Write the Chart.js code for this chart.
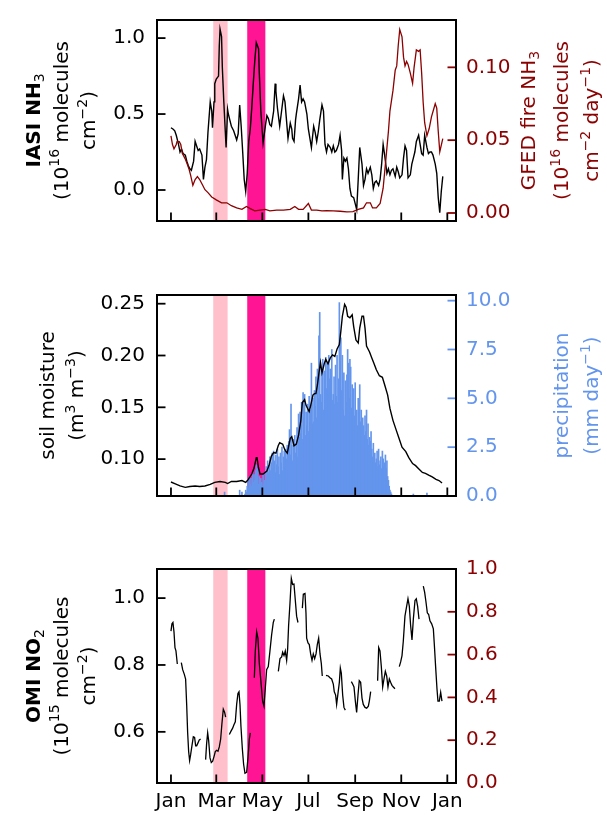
<!DOCTYPE html>
<html>
<head>
<meta charset="utf-8">
<script src="https://cdn.jsdelivr.net/npm/chart.js@4.4.0/dist/chart.umd.min.js"></script>
<title>NH3, soil moisture and NO2</title>
<style>
  body { margin: 0; background: #fff; }
  #wrap { position: relative; width: 607px; height: 815px; overflow: hidden; }
  canvas { position: absolute; left: 0; }
</style>
</head>
<body>
<div id="wrap">
<canvas id="c1" width="607" height="249" style="top:-4px"></canvas>
<canvas id="c2" width="607" height="249" style="top:271px"></canvas>
<canvas id="c3" width="607" height="270" style="top:545px"></canvas>
</div>

<script>
// x axis: day of year (leap year), ticks every two months
const monthTickDays = [0, 60, 121, 182, 244, 305, 366];
const monthTickLabels = ['Jan', 'Mar', 'May', 'Jul', 'Sep', 'Nov', 'Jan'];

// shaded periods (day of year)
const lightSpan = [56, 75];
const deepSpan = [101, 125];

// panel 1: IASI NH3 (left) and GFED fire NH3 (right)
const nh3Days = [0,3,5,7,10,12,14,16,19,21,23,25,27,30,32,34,36,38,41,43,45,47,49,52,54,55,57,58,60,63,64,65,67,68,70,72,73,75,76,78,80,83,85,87,89,91,93,95,97,99,101,103,105,107,109,111,113,116,117,119,121,122,125,127,129,131,133,136,138,139,141,143,144,147,149,151,153,155,158,160,161,163,165,166,169,171,173,175,177,180,182,184,186,189,191,193,195,197,200,202,204,206,208,211,213,215,217,219,222,224,226,227,229,231,233,235,237,239,242,244,246,248,250,253,255,257,259,261,264,266,268,270,272,275,277,279,281,283,286,288,290,292,294,297,299,301,303,306,308,310,312,314,317,319,321,323,325,328,330,332,334,336,339,341,343,345,347,350,352,354,356,358,360];
const nh3Vals = [0.41,0.40,0.39,0.36,0.30,0.25,0.27,0.24,0.23,0.19,0.16,0.14,0.13,0.19,0.32,0.29,0.26,0.27,0.23,0.07,0.15,0.20,0.38,0.58,0.52,0.41,0.58,0.70,0.73,0.75,0.95,1.06,1.01,0.81,0.58,0.38,0.28,0.53,0.50,0.46,0.42,0.39,0.36,0.33,0.37,0.56,0.42,0.25,0.07,-0.01,0.11,0.32,0.40,0.54,0.70,0.85,0.97,0.93,0.77,0.52,0.38,0.31,0.42,0.49,0.47,0.43,0.42,0.52,0.70,0.65,0.54,0.46,0.42,0.54,0.62,0.58,0.46,0.34,0.44,0.40,0.34,0.32,0.46,0.50,0.60,0.69,0.58,0.60,0.58,0.50,0.40,0.34,0.28,0.42,0.38,0.32,0.38,0.46,0.56,0.52,0.30,0.25,0.30,0.28,0.25,0.29,0.25,0.26,0.30,0.36,0.26,0.07,0.21,0.19,0.21,0.14,0.01,-0.04,-0.05,-0.09,-0.13,0.07,0.28,0.17,0.03,0.07,0.14,0.11,0.15,0.10,0.01,0.05,0.06,0.03,0.07,0.17,0.30,0.23,0.11,0.14,0.10,0.13,0.14,0.09,0.15,0.12,0.08,0.10,0.21,0.29,0.26,0.08,0.10,0.17,0.21,0.25,0.32,0.36,0.30,0.24,0.23,0.36,0.28,0.24,0.25,0.25,0.23,0.17,0.11,-0.05,-0.15,-0.01,0.09];
const nh3Ticks = [0, 0.5, 1.0];

const fireDays = [0,2,4,7,8,11,13,15,19,22,24,26,29,32,35,38,42,45,49,54,60,67,74,80,87,94,100,105,111,118,125,131,140,149,158,164,169,175,182,186,193,200,206,215,224,233,241,248,255,259,264,267,272,277,281,285,288,290,294,297,299,301,303,306,308,310,312,314,317,320,322,325,328,330,332,334,336,339,342,345,350,352,354,356,360];
const fireVals = [0.053,0.047,0.044,0.047,0.049,0.049,0.047,0.041,0.037,0.033,0.030,0.026,0.019,0.023,0.025,0.023,0.019,0.016,0.014,0.011,0.009,0.007,0.007,0.005,0.0035,0.0025,0.0045,0.003,0.0015,0.002,0.0025,0.0015,0.002,0.002,0.0025,0.0045,0.0025,0.0025,0.0065,0.002,0.002,0.0015,0.0016,0.0015,0.0012,0.0008,0.001,0.0025,0.0035,0.007,0.007,0.0035,0.0035,0.0065,0.017,0.039,0.056,0.070,0.084,0.098,0.101,0.115,0.126,0.121,0.107,0.101,0.104,0.102,0.096,0.089,0.100,0.112,0.111,0.112,0.096,0.076,0.062,0.053,0.058,0.066,0.075,0.072,0.056,0.042,0.051];
const fireTicks = [0, 0.05, 0.10];

// panel 2: soil moisture (left) and precipitation (right)
const smDays = [0,5,12,19,25,32,38,45,52,58,65,72,75,80,87,94,99,102,107,110,113,114,116,118,122,127,130,133,136,139,142,144,148,151,154,158,160,163,166,169,172,174,177,179,181,183,185,188,190,192,194,196,198,200,203,205,208,211,214,217,220,223,225,227,230,232,234,237,240,242,245,248,250,253,255,257,259,263,266,269,272,276,280,283,287,290,294,298,302,306,311,315,320,324,328,333,337,342,346,351,355,359];
const smVals = [0.0779,0.0764,0.0741,0.0727,0.0736,0.0741,0.0736,0.0741,0.0756,0.0776,0.0784,0.0776,0.0764,0.0784,0.0784,0.0793,0.0776,0.0799,0.0856,0.0914,0.1014,0.1014,0.0914,0.0856,0.0856,0.0885,0.0943,0.1029,0.1063,0.1057,0.1129,0.1158,0.1144,0.1086,0.1057,0.1201,0.1216,0.1129,0.1144,0.1230,0.1374,0.1546,0.1575,0.1517,0.1489,0.1460,0.1517,0.1618,0.1632,0.1632,0.1718,0.1833,0.1934,0.1833,0.1920,0.1963,0.1920,0.1977,0.2006,0.1991,0.2063,0.2106,0.2236,0.2379,0.2494,0.2466,0.2379,0.2365,0.2394,0.2279,0.2149,0.2121,0.2264,0.2379,0.2379,0.2264,0.2092,0.2034,0.1977,0.1920,0.1862,0.1805,0.1790,0.1718,0.1618,0.1489,0.1374,0.1287,0.1201,0.1115,0.1072,0.1014,0.0957,0.0937,0.0908,0.0871,0.0862,0.0842,0.0828,0.0805,0.0793,0.0770];
const smTicks = [0.10, 0.15, 0.20, 0.25];

// daily precipitation from day 98 to day 292, plus a few isolated showers
const precipFirstDay = 98;
const precipVals = [
  0.1,0.3,0.2,
  0.5,0.8,0.4,1.0,0.6, 0.9,0.5,1.2,0.7,1.1, 0.8,1.3,1.6,1.0,1.4, 0.6,1.0,0.4,0.9,0.7,
  0.5,1.1,0.6,0.8,1.2, 1.5,1.0,1.8,1.2,1.6, 2.0,1.3,1.7,2.2,1.4, 2.3,1.8,1.2,2.1,1.6,
  2.4,1.5,2.0,1.1,2.2, 1.7,2.5,1.3,2.0,2.3, 1.5,2.4,1.9,2.6,1.4, 2.8,3.4,2.1,4.7,2.6,
  1.8,2.9,1.6,3.1,2.2, 2.7,3.5,2.0,4.2,3.0, 4.3,3.2,4.8,2.9,5.3, 4.0,5.2,3.1,4.3,3.6,
  4.7,3.3,5.1,3.8,4.4, 6.8,3.7,5.0,3.8,5.4, 4.6,6.1,4.0,6.5,5.0, 8.2,9.4,5.2,4.8,6.3,
  7.0,4.4,6.4,5.8,7.1, 5.5,6.8,4.9,7.2,6.0, 6.5,5.6,7.5,4.9,5.2, 6.1,4.7,6.7,5.1,7.2,
  4.8,6.0,9.9,6.9,8.1, 5.4,7.2,4.4,6.3,4.1, 5.9,4.8,6.2,7.5,6.8, 5.0,7.0,6.6,4.5,5.7,
  4.3,5.5,4.1,5.8,3.9, 4.4,3.6,5.0,4.6,5.7, 3.8,4.4,3.2,4.0,3.6, 3.1,4.1,3.3,4.4,2.9,
  3.7,2.6,3.0,2.8,3.3, 2.4,2.0,2.7,1.9,2.2, 1.7,1.9,2.3,1.5,2.4, 1.6,1.8,2.0,1.4,2.3,
  1.9,1.5,1.7,2.1,1.4, 1.8,1.0,0.8,0.5,0.3,
  0.2,0.1
];
const precipExtraDays = [71, 91, 94, 321, 339];
const precipExtraVals = [0.2, 0.3, 0.2, 0.1, 0.15];
const precipTicks = [0, 2.5, 5.0, 7.5, 10.0];

// panel 3: OMI NO2 (null = missing data)
const no2Days = [0,1.3,2.6,4.0,5.3,6.6,8.4,11,13.7,15.5,17.7,19.4,20.8,22.1,23.4,24.7,26.0,27.8,29.6,31.3,32.7,34.0,35.8,37.5,39.3,42,45.9,47.2,48.6,49.9,51.7,53.4,55.2,57.0,58.7,60.5,62.3,64.0,65.8,67.5,69.3,71.1,72.4,75,77.3,79.5,81.7,83.4,85.2,87.0,88.7,90.1,91.4,92.7,94.5,96.2,98.0,100.2,102.0,103.8,105.1,108,110.4,111.7,113.5,115.2,117.0,119.2,121.4,123.2,124.9,126.7,128.9,131.1,133.3,135.5,136.9,139,142.2,144.4,146.6,147.9,149.7,151.4,153.2,154.5,155.8,157.6,159.4,161.1,162.9,164.7,166.4,168.2,171,174.0,175.3,177.5,178.8,179.7,181.5,183.2,185.0,186.8,188.5,190.3,192.1,193.8,195.6,197.4,199.1,200.4,203,205.3,208.4,210.6,212.8,215.0,216.3,218.1,219.4,221.2,223.0,224.3,225.6,227.4,229.1,230.9,235,238.9,240.6,242.4,244.2,245.9,247.7,249.4,251.2,253.0,254.7,257.0,259.2,261.4,262.7,264.5,269,273.7,275.1,276.8,278.6,280.4,282.1,283.9,285.7,287.4,289.2,290.9,292.7,294.5,296.7,300,302.4,304.2,306.0,307.7,309.9,312.1,313.9,315.7,317.4,319.2,321.0,323.2,324.9,326.7,328.5,331,334.2,336.0,337.7,339.5,341.3,343.0,345.3,347.5,348.8,350.5,352.3,353.6,355.4,357.2,358.9];
const no2Vals = [0.901,0.923,0.927,0.899,0.852,0.842,0.803,null,0.807,0.786,0.772,0.758,0.682,0.597,0.541,0.514,0.531,0.559,0.585,0.583,0.558,0.558,0.567,0.576,0.578,null,0.517,0.564,0.597,0.574,0.522,0.508,0.512,0.526,0.541,0.545,0.542,0.555,0.578,0.625,0.668,0.658,0.644,null,0.592,0.602,0.611,0.621,0.630,0.682,0.715,0.720,0.682,0.616,0.550,0.503,0.476,0.479,0.522,0.578,0.597,null,0.762,0.842,0.899,0.880,0.805,0.748,0.692,0.677,0.729,0.786,0.795,0.842,0.890,0.927,0.937,null,0.781,0.819,0.824,0.838,0.828,0.842,0.814,0.847,0.918,0.984,1.059,1.041,1.042,0.993,0.946,0.927,null,0.970,1.012,1.014,0.956,0.880,0.866,0.861,0.833,0.814,0.833,0.819,0.833,0.861,0.880,0.833,0.805,0.767,null,0.769,0.767,0.762,0.758,0.743,0.720,0.710,0.682,0.715,0.748,0.791,0.776,0.710,0.673,0.665,null,0.750,0.743,0.734,0.692,0.658,0.710,0.753,0.748,0.701,0.682,0.673,0.671,0.677,0.692,0.720,null,0.753,0.852,0.842,0.795,0.734,0.758,0.781,0.767,0.734,0.758,0.748,0.739,0.734,0.729,null,0.795,0.809,0.828,0.871,0.946,0.975,0.998,0.975,0.918,0.875,0.937,0.993,0.998,0.975,0.937,null,1.036,1.017,0.989,0.956,0.951,0.932,0.923,0.908,0.861,0.795,0.729,0.692,0.692,0.718,0.692];
const no2Ticks = [0.6, 0.8, 1.0];
const emptyRightTicks = [0, 0.2, 0.4, 0.6, 0.8, 1.0];

const DARKRED = '#8b0000';
const BLUE = '#6495ed';
const FONT = "'DejaVu Sans'";
const FSIZE = 20;
Chart.defaults.font.family = FONT;
Chart.defaults.font.size = FSIZE;
Chart.defaults.color = 'black';

function pts(days, vals) {
    return days.map((d, i) => ({x: d, y: vals[i]}));
}

var precipDays = precipVals.map((v, i) => precipFirstDay + i);
var precipPoints = pts(precipExtraDays, precipExtraVals).concat(pts(precipDays, precipVals));

// shaded periods behind the data
const spanPlugin = {
    id: 'spans',
    beforeDatasetsDraw(chart) {
        const ctx = chart.ctx, a = chart.chartArea, x = chart.scales.x;
        ctx.save();
        [[lightSpan, 'pink'], [deepSpan, 'deeppink']].forEach(function (s) {
            var x0 = x.getPixelForValue(s[0][0]);
            var x1 = x.getPixelForValue(s[0][1]);
            ctx.fillStyle = s[1];
            ctx.fillRect(x0, a.top, x1 - x0, a.bottom - a.top);
        });
        ctx.restore();
    }
};

// box around the plot and inward tick marks (matplotlib style)
const framePlugin = {
    id: 'frame',
    afterDatasetsDraw(chart, args, opts) {
        const ctx = chart.ctx, a = chart.chartArea, s = chart.scales;
        const len = 8.5;
        ctx.save();
        ctx.lineWidth = 1.8;
        ctx.strokeStyle = 'black';
        monthTickDays.forEach(function (d) {
            var p = s.x.getPixelForValue(d);
            ctx.beginPath(); ctx.moveTo(p, a.bottom); ctx.lineTo(p, a.bottom - len); ctx.stroke();
        });
        opts.leftTicks.forEach(function (v) {
            var p = s.y.getPixelForValue(v);
            ctx.beginPath(); ctx.moveTo(a.left, p); ctx.lineTo(a.left + len, p); ctx.stroke();
        });
        ctx.strokeStyle = opts.rightColor;
        opts.rightTicks.forEach(function (v) {
            var p = s.y2.getPixelForValue(v);
            ctx.beginPath(); ctx.moveTo(a.right, p); ctx.lineTo(a.right - len, p); ctx.stroke();
        });
        ctx.strokeStyle = 'black';
        ctx.lineWidth = 2;
        ctx.strokeRect(a.left, a.top, a.right - a.left, a.bottom - a.top);
        ctx.restore();
    }
};

// rotated axis titles with super/subscripts; seg = [text, 'sup'|'sub'|'', bold]
function drawRich(ctx, segs, cx, cy, size, color) {
    ctx.save();
    ctx.translate(cx, cy);
    ctx.rotate(-Math.PI / 2);
    ctx.fillStyle = color;
    ctx.textBaseline = 'alphabetic';
    ctx.textAlign = 'left';
    var small = size * 0.7, w = 0;
    function fontOf(sg) {
        return (sg[2] ? 'bold ' : '') + (sg[1] ? small : size) + 'px ' + FONT;
    }
    var parts = segs.map(function (sg) {
        ctx.font = fontOf(sg);
        var m = ctx.measureText(sg[0]).width;
        w += m;
        return {sg: sg, m: m};
    });
    var x = -w / 2, base = size * 0.36;
    parts.forEach(function (p) {
        ctx.font = fontOf(p.sg);
        var k = p.sg[1];
        var dy = k === 'sup' ? -size * 0.42 : (k === 'sub' ? size * 0.2 : 0);
        ctx.fillText(p.sg[0], x, base + dy);
        x += p.m;
    });
    ctx.restore();
}

const titlePlugin = {
    id: 'titles',
    afterDraw(chart, args, opts) {
        const a = chart.chartArea;
        var cy = (a.top + a.bottom) / 2;
        opts.items.forEach(function (it) {
            drawRich(chart.ctx, it.segs, it.x, cy + (it.dy || 0), FSIZE, it.color);
        });
    }
};

function xAxis(showLabels, height) {
    return {
        type: 'linear', min: -18.5, max: 377.5, offset: false,
        grid: {display: false, drawTicks: false}, border: {display: false},
        ticks: {
            display: showLabels, padding: 7, maxRotation: 0,
            callback: function (v) { return monthTickLabels[monthTickDays.indexOf(v)]; }
        },
        afterBuildTicks: function (sc) { sc.ticks = monthTickDays.map(v => ({value: v})); },
        afterFit: function (sc) { sc.height = height; }
    };
}

function yAxis(pos, min, max, tickVals, digits, color) {
    return {
        type: 'linear', position: pos, min: min, max: max,
        grid: {display: false, drawTicks: false}, border: {display: false},
        ticks: {
            color: color, padding: pos === 'left' ? 12 : 10,
            callback: function (v) { return v.toFixed(digits); }
        },
        afterBuildTicks: function (sc) { sc.ticks = tickVals.map(v => ({value: v})); },
        afterFit: function (sc) { sc.width = pos === 'left' ? 157 : 151; }
    };
}

function baseOptions(scales, leftTicks, rightTicks, rightColor, titles) {
    return {
        responsive: false,
        animation: false,
        layout: {padding: {top: 12, left: 0, right: 0, bottom: 0}},
        scales: scales,
        plugins: {
            legend: {display: false},
            tooltip: {enabled: false},
            frame: {leftTicks: leftTicks, rightTicks: rightTicks, rightColor: rightColor},
            titles: {items: titles}
        }
    };
}

var plugins = [spanPlugin, framePlugin, titlePlugin];

// ---- panel 1
new Chart(document.getElementById('c1'), {
    type: 'line',
    data: {
        datasets: [
            {data: pts(fireDays, fireVals), yAxisID: 'y2', borderColor: DARKRED, borderWidth: 1.3, pointRadius: 0, tension: 0, order: 0},
            {data: pts(nh3Days, nh3Vals), yAxisID: 'y', borderColor: 'black', borderWidth: 1.4, pointRadius: 0, tension: 0, order: 1}
        ]
    },
    options: baseOptions({
        x: xAxis(false, 12),
        y: yAxis('left', -0.204, 1.119, nh3Ticks, 1, 'black'),
        y2: yAxis('right', -0.0055, 0.1325, fireTicks, 2, DARKRED)
    }, nh3Ticks, fireTicks, DARKRED, [
        {x: 33, color: 'black', segs: [['IASI NH', '', true], ['3', 'sub']]},
        {x: 60.5, color: 'black', segs: [['(10'], ['16', 'sup'], [' molecules']]},
        {x: 88, color: 'black', segs: [['cm'], ['\u22122', 'sup'], [')']]},
        {x: 528, color: DARKRED, segs: [['GFED fire NH'], ['3', 'sub']]},
        {x: 561, color: DARKRED, segs: [['(10'], ['16', 'sup'], [' molecules']]},
        {x: 591, color: DARKRED, segs: [['cm'], ['\u22122', 'sup'], [' day'], ['\u22121', 'sup'], [')']]}
    ]),
    plugins: plugins
});

// ---- panel 2
new Chart(document.getElementById('c2'), {
    type: 'bar',
    data: {
        datasets: [
            {type: 'line', data: pts(smDays, smVals), yAxisID: 'y', borderColor: 'black', borderWidth: 1.4, pointRadius: 0, tension: 0, order: 0},
            {type: 'bar', data: precipPoints, yAxisID: 'y2', backgroundColor: BLUE, borderWidth: 0, barThickness: 1, order: 1}
        ]
    },
    options: baseOptions({
        x: xAxis(false, 12),
        y: yAxis('left', 0.0644, 0.2584, smTicks, 2, 'black'),
        y2: yAxis('right', 0, 10.29, precipTicks, 1, BLUE)
    }, smTicks, precipTicks, BLUE, [
        {x: 46.5, color: 'black', segs: [['soil moisture']]},
        {x: 76, color: 'black', segs: [['(m'], ['3', 'sup'], [' m'], ['\u22123', 'sup'], [')']]},
        {x: 561, color: BLUE, segs: [['precipitation']]},
        {x: 591, color: BLUE, segs: [['(mm day'], ['\u22121', 'sup'], [')']]}
    ]),
    plugins: plugins
});

// ---- panel 3
new Chart(document.getElementById('c3'), {
    type: 'line',
    data: {
        datasets: [
            {data: pts(no2Days, no2Vals), yAxisID: 'y', borderColor: 'black', borderWidth: 1.3, pointRadius: 0, tension: 0, spanGaps: false}
        ]
    },
    options: baseOptions({
        x: xAxis(true, 32),
        y: yAxis('left', 0.447, 1.087, no2Ticks, 1, 'black'),
        y2: yAxis('right', 0, 1, emptyRightTicks, 1, DARKRED)
    }, no2Ticks, emptyRightTicks, DARKRED, [
        {x: 33, color: 'black', segs: [['OMI NO', '', true], ['2', 'sub']]},
        {x: 60.5, color: 'black', segs: [['(10'], ['15', 'sup'], [' molecules']]},
        {x: 88, color: 'black', segs: [['cm'], ['\u22122', 'sup'], [')']]}
    ]),
    plugins: plugins
});
</script>
</body>
</html>
